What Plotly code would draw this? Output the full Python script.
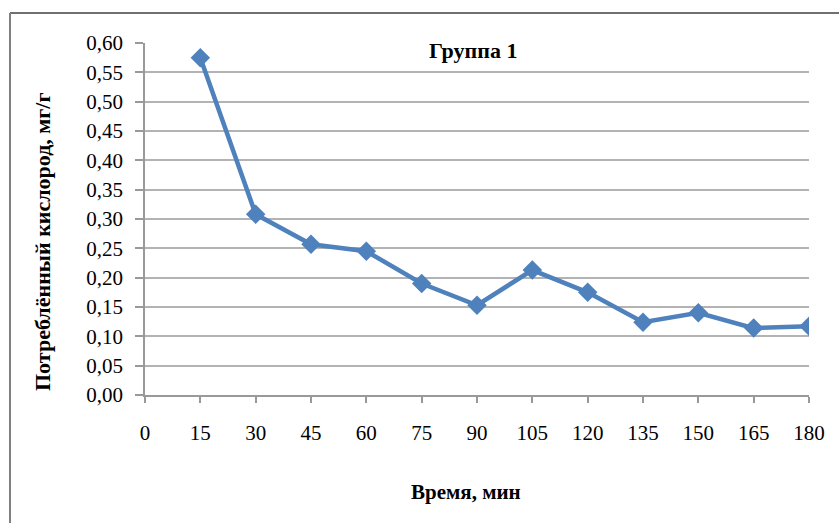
import plotly.graph_objects as go

time_min = [15, 30, 45, 60, 75, 90, 105, 120, 135, 150, 165, 180]
oxygen = [0.575, 0.308, 0.257, 0.245, 0.190, 0.153, 0.213, 0.175, 0.124, 0.140, 0.114, 0.117]
x_ticks = [0, 15, 30, 45, 60, 75, 90, 105, 120, 135, 150, 165, 180]
y_ticks = [0.00, 0.05, 0.10, 0.15, 0.20, 0.25, 0.30, 0.35, 0.40, 0.45, 0.50, 0.55, 0.60]

title_text = "Группа 1"
x_title = "Время, мин"
y_title = "Потреблённый кислород, мг/г"

W, H = 839, 523
L, R, T, B = 145, 30, 43, 128
pw, ph = W - L - R, H - T - B

def px(x):
    return (x - L) / pw

def py(y):
    return (H - B - y) / ph

FONT = "Liberation Serif, Times New Roman, serif"

fig = go.Figure()
fig.add_trace(go.Scatter(
    x=time_min, y=oxygen, mode="lines+markers",
    line=dict(color="#4F81BD", width=4.5),
    marker=dict(symbol="diamond", size=15, color="#4F81BD"),
    showlegend=False,
))

fig.update_layout(
    width=W, height=H,
    margin=dict(l=L, r=R, t=T, b=B),
    paper_bgcolor="white", plot_bgcolor="white",
    separators=", ",
    font=dict(family=FONT, color="black"),
    xaxis=dict(
        range=[0, 180], tickvals=x_ticks, ticktext=[str(v) for v in x_ticks],
        showgrid=False, zeroline=False,
        showline=True, linecolor="#999999", linewidth=1.5,
        ticks="outside", ticklen=6, tickcolor="#999999", tickwidth=1.5,
        tickfont=dict(family=FONT, size=21, color="black"),
        ticklabelstandoff=12,
    ),
    yaxis=dict(
        range=[0, 0.60], tickvals=y_ticks, tickformat=".2f",
        showgrid=True, gridcolor="#b3b3b3", gridwidth=1.5,
        zeroline=False,
        showline=True, linecolor="#999999", linewidth=1.5,
        ticks="outside", ticklen=8, tickcolor="#999999", tickwidth=1.5,
        tickfont=dict(family=FONT, size=21, color="black"),
        ticklabelstandoff=8,
    ),
    annotations=[
        dict(text="<b>" + title_text + "</b>", xref="paper", yref="paper",
             x=px(473), y=py(50), xanchor="center", yanchor="middle",
             showarrow=False, bgcolor="white",
             font=dict(family=FONT, size=22, color="black")),
        dict(text="<b>" + x_title + "</b>", xref="paper", yref="paper",
             x=px(466), y=py(492), xanchor="center", yanchor="middle",
             showarrow=False, font=dict(family=FONT, size=21, color="black")),
        dict(text="<b>" + y_title + "</b>", xref="paper", yref="paper",
             x=px(42), y=py(242), xanchor="center", yanchor="middle",
             textangle=-90, showarrow=False,
             font=dict(family=FONT, size=22, color="black")),
    ],
    shapes=[
        dict(type="line", xref="paper", yref="paper",
             x0=px(10), x1=px(W + 5), y0=py(13), y1=py(13),
             line=dict(color="#404040", width=1.5)),
        dict(type="line", xref="paper", yref="paper",
             x0=px(10), x1=px(10), y0=py(13), y1=py(H + 5),
             line=dict(color="#808080", width=2)),
    ],
)

fig.write_html("out.html", config={"displayModeBar": False},
               post_script="document.body.style.margin='0';")
